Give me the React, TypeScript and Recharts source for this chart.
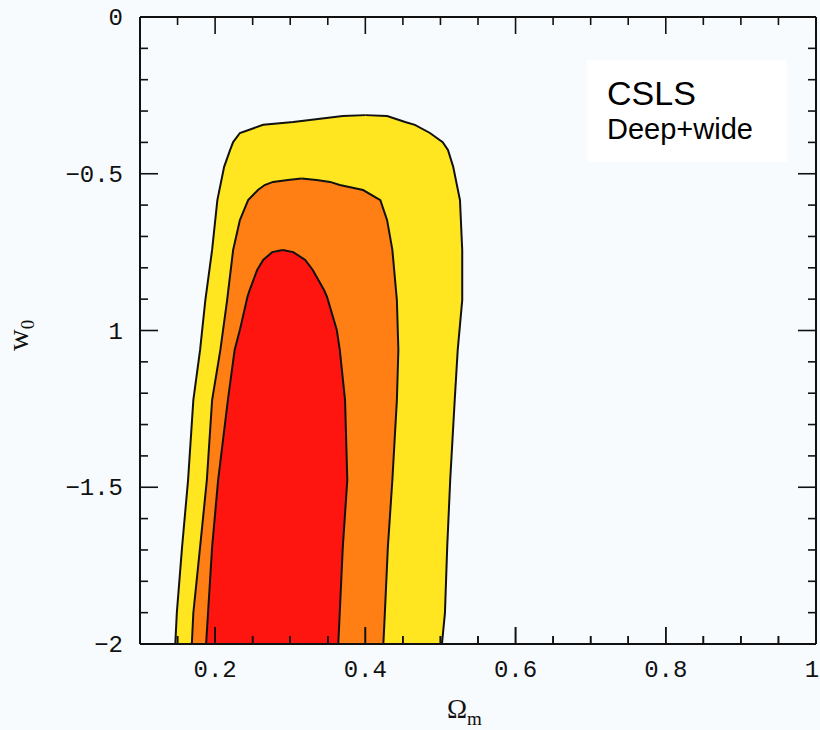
import { ComposedChart, Area, Scatter, XAxis, YAxis } from "recharts";

// tick values and labels
const xMajorTicks = [0.2, 0.4, 0.6, 0.8, 1];
const xMajorLabels = ["0.2", "0.4", "0.6", "0.8", "1"];
const xMinorTicks = [0.15, 0.25, 0.3, 0.35, 0.45, 0.5, 0.55, 0.65, 0.7, 0.75, 0.85, 0.9, 0.95];
const yMajorTicks = [0, -0.5, -1, -1.5, -2];
const yMajorLabels = ["0", "−0.5", "1", "−1.5", "−2"];
const yMinorTicks = [-0.1, -0.2, -0.3, -0.4, -0.6, -0.7, -0.8, -0.9, -1.1, -1.2, -1.3, -1.4, -1.6, -1.7, -1.8, -1.9];

// 95% contour (yellow): w0 levels, left and right Omega_m edge
const yellowW = [-2.0, -1.901, -1.691, -1.477, -1.222, -1.062, -0.903, -0.743, -0.584, -0.478, -0.424, -0.399, -0.37, -0.344, -0.335, -0.316, -0.313];
const yellowLeft = [0.147, 0.149, 0.156, 0.164, 0.171, 0.18, 0.187, 0.196, 0.203, 0.212, 0.22, 0.224, 0.233, 0.264, 0.304, 0.37, 0.4];
const yellowRight = [0.502, 0.506, 0.509, 0.513, 0.519, 0.523, 0.529, 0.529, 0.526, 0.517, 0.51, 0.503, 0.486, 0.466, 0.453, 0.429, 0.4];

// 68% contour (orange)
const orangeW = [-2.0, -1.901, -1.691, -1.477, -1.222, -1.062, -0.903, -0.743, -0.648, -0.584, -0.552, -0.536, -0.526, -0.52, -0.515];
const orangeLeft = [0.169, 0.171, 0.18, 0.189, 0.196, 0.207, 0.216, 0.224, 0.233, 0.244, 0.257, 0.266, 0.277, 0.297, 0.315];
const orangeRight = [0.424, 0.426, 0.43, 0.436, 0.442, 0.444, 0.442, 0.436, 0.429, 0.42, 0.397, 0.366, 0.353, 0.335, 0.315];

// inner contour (red)
const redW = [-2.0, -1.691, -1.477, -1.222, -1.062, -0.998, -0.893, -0.871, -0.807, -0.775, -0.75, -0.743];
const redLeft = [0.188, 0.196, 0.204, 0.217, 0.226, 0.233, 0.243, 0.246, 0.256, 0.264, 0.276, 0.29];
const redRight = [0.364, 0.37, 0.376, 0.373, 0.366, 0.362, 0.349, 0.345, 0.33, 0.32, 0.304, 0.29];

const toRows = (w: number[], left: number[], right: number[]) =>
  w.map((v, i) => ({ w: v, range: [left[i], right[i]] }));

const yellowData = toRows(yellowW, yellowLeft, yellowRight);
const orangeData = toRows(orangeW, orangeLeft, orangeRight);
const redData = toRows(redW, redLeft, redRight);

const xTicks = [...xMajorTicks, ...xMinorTicks];
const yTicks = [...yMajorTicks, ...yMinorTicks];

// bottom tick marks repeated on top of the filled contours
const bottomMarks = xTicks.map((x) => ({ x, w: -2, major: xMajorTicks.includes(x) }));

const INK = "#111";
const TICK_FONT = "'Liberation Mono', 'DejaVu Sans Mono', monospace";

function labelFor(v: number, ticks: number[], labels: string[]) {
  const i = ticks.findIndex((t) => Math.abs(t - v) < 1e-9);
  return i >= 0 ? labels[i] : null;
}

const BottomTick = (p: any) => {
  const label = labelFor(p.payload.value, xMajorTicks, xMajorLabels);
  const last = Math.abs(p.payload.value - 1) < 1e-9;
  return (
    <g>
      <line x1={p.x} y1={p.y} x2={p.x} y2={p.y - (label ? 17 : 8)} stroke={INK} strokeWidth={1.6} />
      {label && (
        <text x={p.x - (last ? 4 : 0)} y={p.y + 33} textAnchor="middle" fontFamily={TICK_FONT} fontSize={24} fill={INK}>
          {label}
        </text>
      )}
    </g>
  );
};

const TopTick = (p: any) => {
  const label = labelFor(p.payload.value, xMajorTicks, xMajorLabels);
  return <line x1={p.x} y1={p.y} x2={p.x} y2={p.y + (label ? 17 : 8)} stroke={INK} strokeWidth={1.6} />;
};

const LeftTick = (p: any) => {
  const label = labelFor(p.payload.value, yMajorTicks, yMajorLabels);
  return (
    <g>
      <line x1={p.x} y1={p.y} x2={p.x + (label ? 18 : 8)} y2={p.y} stroke={INK} strokeWidth={1.6} />
      {label && (
        <text x={p.x - 17} y={p.y + 8} textAnchor="end" fontFamily={TICK_FONT} fontSize={24} fill={INK}>
          {label}
        </text>
      )}
    </g>
  );
};

const RightTick = (p: any) => {
  const label = labelFor(p.payload.value, yMajorTicks, yMajorLabels);
  return <line x1={p.x} y1={p.y} x2={p.x - (label ? 18 : 8)} y2={p.y} stroke={INK} strokeWidth={1.6} />;
};

const TickMark = (p: any) => {
  if (p.cx == null || p.cy == null) return <g />;
  return (
    <line x1={p.cx} y1={p.cy} x2={p.cx} y2={p.cy - (p.payload && p.payload.major ? 17 : 8)} stroke={INK} strokeWidth={1.6} />
  );
};

const axisLine = { stroke: INK, strokeWidth: 2 };

export default function App() {
  return (
    <div style={{ position: "absolute", left: 0, top: 0, width: 820, height: 730, background: "#f7fbfe" }}>
      <ComposedChart layout="vertical" width={820} height={730} margin={{ top: 16, right: 3, left: 0, bottom: 0 }}>
        <Area xAxisId="b" yAxisId="l" data={yellowData} dataKey="range" type="linear" fill="#ffe620" fillOpacity={1} stroke={INK} strokeWidth={2} isAnimationActive={false} />
        <Area xAxisId="b" yAxisId="l" data={orangeData} dataKey="range" type="linear" fill="#ff7f15" fillOpacity={1} stroke={INK} strokeWidth={2} isAnimationActive={false} />
        <Area xAxisId="b" yAxisId="l" data={redData} dataKey="range" type="linear" fill="#ff1510" fillOpacity={1} stroke={INK} strokeWidth={2} isAnimationActive={false} />
        <Scatter xAxisId="b" yAxisId="l" data={bottomMarks} dataKey="w" shape={TickMark} isAnimationActive={false} />

        <XAxis xAxisId="b" dataKey="x" type="number" orientation="bottom" domain={[0.1, 1]} ticks={xTicks} interval={0} allowDataOverflow height={86} tickSize={0} tickMargin={0} axisLine={axisLine} tickLine={false} tick={(p: any) => <BottomTick {...p} />} />
        <XAxis xAxisId="t" type="number" orientation="top" domain={[0.1, 1]} ticks={xTicks} interval={0} allowDataOverflow height={1} tickSize={0} tickMargin={0} axisLine={axisLine} tickLine={false} tick={(p: any) => <TopTick {...p} />} />
        <YAxis yAxisId="l" type="number" dataKey="w" orientation="left" reversed domain={[-2, 0]} ticks={yTicks} interval={0} allowDataOverflow width={140} tickSize={0} tickMargin={0} axisLine={axisLine} tickLine={false} tick={(p: any) => <LeftTick {...p} />} />
        <YAxis yAxisId="r" type="number" dataKey="w" orientation="right" reversed domain={[-2, 0]} ticks={yTicks} interval={0} allowDataOverflow width={1} tickSize={0} tickMargin={0} axisLine={axisLine} tickLine={false} tick={(p: any) => <RightTick {...p} />} />

        <rect x={587} y={60} width={200} height={102} fill="#ffffff" />
        <text x={607} y={105} fontFamily="'Liberation Sans', Arial, sans-serif" fontSize={34} fill="#000">CSLS</text>
        <text x={607} y={139} fontFamily="'Liberation Sans', Arial, sans-serif" fontSize={29} fill="#000">Deep+wide</text>

        <text x={447} y={718} fontFamily="'Liberation Serif', 'DejaVu Serif', serif" fontSize={27} fill={INK}>
          Ω<tspan fontSize={19} dy={7}>m</tspan>
        </text>
        <text x={28} y={351} transform="rotate(-90, 28, 351)" fontFamily="'Liberation Serif', 'DejaVu Serif', serif" fontSize={30} fill={INK}>
          w<tspan fontSize={19} dy={6}>0</tspan>
        </text>
      </ComposedChart>
    </div>
  );
}
